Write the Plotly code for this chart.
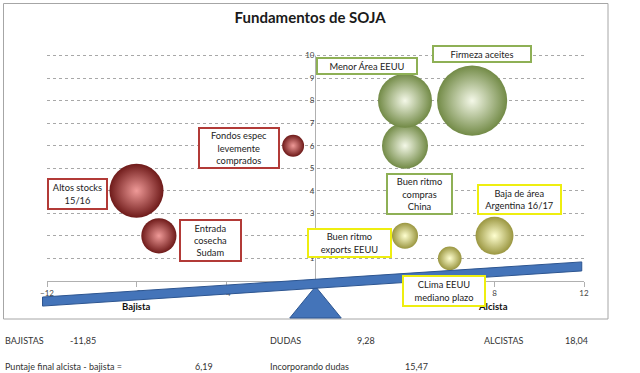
import plotly.graph_objects as go

# ---------------- data ----------------
red_x = [-8, -7, -1]
red_y = [4, 2, 6]
red_size = [7.3, 3.1, 1.2]

green_x = [4, 4, 7]
green_y = [6, 8, 8]
green_size = [5.3, 7.3, 12.3]

yellow_x = [4, 6, 8]
yellow_y = [2, 1, 2]
yellow_size = [1.7, 1.4, 3.6]

labels = ["Altos stocks<br>15/16", "Fondos espec<br>levemente<br>comprados",
          "Entrada<br>cosecha<br>Sudam", "Menor Área EEUU", "Firmeza aceites",
          "Buen ritmo<br>compras<br>China", "Baja de área<br>Argentina 16/17",
          "Buen ritmo<br>exports EEUU", "CLima EEUU<br>mediano plazo"]
label_group = ["red", "red", "red", "green", "green", "green", "yellow", "yellow", "yellow"]

summary_labels = ["BAJISTAS", "DUDAS", "ALCISTAS"]
summary_values = ["-11,85", "9,28", "18,04"]
final_labels = ["Puntaje final alcista - bajista =", "Incorporando dudas"]
final_values = ["6,19", "15,47"]

y_ticks = [1, 2, 3, 4, 5, 6, 7, 8, 9, 10]
x_ticks = [-12, -8, -4, 0, 4, 8, 12]

# ---------------- layout helpers ----------------
W, H = 640, 373
ML, MR, MT, MB = 47, 56, 50, 55
XMIN, XMAX = -12, 12
YMIN, YMAX = -1.65, 10.25
FONT = "Lato"

def xp(px):
    return (px - ML) / (W - ML - MR)

def yp(py):
    return (H - MB - py) / (H - MT - MB)

def dx(x):
    return (x - XMIN) / (XMAX - XMIN)

def dy(y):
    return (y - YMIN) / (YMAX - YMIN)

styles = {
    "red": dict(edge="#6e1a19", center="#ef9a98", border="#b23a37"),
    "green": dict(edge="#728a46", center="#f4f8e8", border="#8eb055"),
    "yellow": dict(edge="#9a9640", center="#ffffd0", border="#eeee10"),
}

fig = go.Figure()
for key, xs, ys, ss in [("red", red_x, red_y, red_size),
                        ("green", green_x, green_y, green_size),
                        ("yellow", yellow_x, yellow_y, yellow_size)]:
    st = styles[key]
    fig.add_trace(go.Scatter(
        x=xs, y=ys, mode="markers",
        marker=dict(size=ss, sizemode="area", sizeref=0.005, opacity=1,
                    color=st["edge"], line=dict(width=0),
                    gradient=dict(type="radial", color=st["center"])),
        hoverinfo="skip", showlegend=False))

# label box positions (layout) and pixel box sizes
label_pos = [(-10.64, 3.85), (-3.42, 5.90), (-4.69, 1.79), (2.30, 9.54), (7.44, 10.07),
             (4.65, 3.85), (9.12, 3.61), (1.52, 1.68), (5.74, -0.45)]
label_box = [(61, 32), (82, 42), (63, 43), (102, 18), (100, 18),
             (67, 42), (85, 31), (85, 30), (84, 32)]

annotations = []
annotations.append(dict(x=-12.31, y=5.14, xref="x", yref="y", text="<b>Foco</b>",
                        textangle=-90, showarrow=False, font=dict(size=7, color="#222")))
annotations.append(dict(x=-8, y=-1.12, xref="x", yref="y", text="<b>Bajista</b>",
                        showarrow=False, font=dict(size=9.5, color="#111")))
annotations.append(dict(x=7.95, y=-1.12, xref="x", yref="y", text="<b>Alcista</b>",
                        showarrow=False, font=dict(size=9.5, color="#111")))

for txt, grp, (lx, ly), (bw, bh) in zip(labels, label_group, label_pos, label_box):
    annotations.append(dict(
        x=lx, y=ly, xref="x", yref="y", text=txt, showarrow=False,
        width=bw - 4, height=bh - 4, align="center", valign="middle",
        bgcolor="white", bordercolor=styles[grp]["border"], borderwidth=2, borderpad=0,
        font=dict(family=FONT, size=9.3, color="#222")))

def add_text(t, px, py):
    annotations.append(dict(x=xp(px), y=yp(py), xref="paper", yref="paper", text=t,
                            xanchor="left", yanchor="middle", showarrow=False,
                            font=dict(family=FONT, size=9, color="#333")))

for t, px in zip(summary_labels, [3, 268, 482]):
    add_text(t, px, 340)
for t, px in zip(summary_values, [68, 355, 563]):
    add_text(t, px, 340)
for t, px in zip(final_labels, [3, 268]):
    add_text(t, px, 366)
for t, px in zip(final_values, [193, 403]):
    add_text(t, px, 366)

# shapes: frame, y-axis line, balance beam and fulcrum
beam_left, beam_right = -12.2, 11.9
beam_l_top, beam_l_bot = -0.72, -1.12
beam_r_top, beam_r_bot = 0.84, 0.44
beam_path = (f"M {dx(beam_left)} {dy(beam_l_top)} L {dx(beam_right)} {dy(beam_r_top)} "
             f"L {dx(beam_right)} {dy(beam_r_bot)} L {dx(beam_left)} {dy(beam_l_bot)} Z")
tri_path = (f"M {dx(0)} {dy(-0.25)} L {dx(1.15)} {dy(YMIN)} L {dx(-1.15)} {dy(YMIN)} Z")

shapes = [
    dict(type="rect", xref="paper", yref="paper", x0=xp(3.5), x1=xp(608), y0=yp(3.5), y1=yp(319),
         line=dict(color="#a6a6a6", width=1), fillcolor="rgba(0,0,0,0)", layer="above"),
    dict(type="line", xref="x", yref="y", x0=0, x1=0, y0=0, y1=10,
         line=dict(color="#b0b0b0", width=1), layer="below"),
    dict(type="path", xref="paper", yref="paper", path=tri_path,
         fillcolor="#4474b9", line=dict(color="#2d5590", width=1), layer="above"),
    dict(type="path", xref="paper", yref="paper", path=beam_path,
         fillcolor="#4474b9", line=dict(color="#2d5590", width=1), layer="above"),
]

fig.update_layout(
    width=W, height=H,
    margin=dict(l=ML, r=MR, t=MT, b=MB),
    paper_bgcolor="white", plot_bgcolor="white",
    font=dict(family=FONT, color="#333"),
    title=dict(text="<b>Fundamentos de SOJA</b>", x=0.49, xref="paper", xanchor="center",
               y=1 - 18 / H, yref="container", yanchor="middle",
               font=dict(family=FONT, size=15, color="#1a1a1a")),
    xaxis=dict(range=[XMIN, XMAX], tickvals=x_ticks, showgrid=False, zeroline=False,
               anchor="free", position=dy(0), showline=True, linecolor="#b0b0b0",
               ticks="outside", ticklen=5, tickcolor="#b0b0b0",
               tickfont=dict(size=8, color="#444")),
    yaxis=dict(range=[YMIN, YMAX], tickvals=y_ticks, showgrid=True, gridcolor="#a8a8a8",
               griddash="dot", gridwidth=1, zeroline=False, showline=False,
               anchor="free", position=dx(0), ticks="", ticklabelstandoff=1,
               tickfont=dict(size=8, color="#444")),
    annotations=annotations,
    shapes=shapes,
)

fig.write_html("out.html", config={"displayModeBar": False},
               post_script="document.body.style.margin='0';document.body.style.padding='0';")
